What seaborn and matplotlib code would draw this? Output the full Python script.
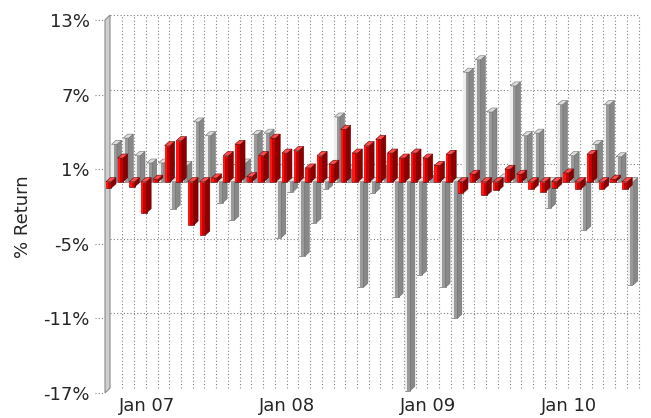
import matplotlib
matplotlib.use("Agg")
import matplotlib.pyplot as plt
from matplotlib.patches import Polygon, Rectangle
import numpy as np
import pandas as pd
import seaborn as sns

# monthly returns, Oct 2006 - Jun 2010
months = pd.date_range("2006-10-01", periods=45, freq="MS")
month_labels = [m.strftime("%b %y") for m in months]

fund_returns = [-0.5, 1.9, -0.4, -2.5, 0.2, 2.9, 3.3, -3.5, -4.3, 0.3,
                2.1, 3.0, 0.4, 2.1, 3.5, 2.3, 2.5, 1.1, 2.1, 1.4,
                4.2, 2.3, 2.9, 3.4, 2.3, 1.9, 2.3, 1.9, 1.3, 2.2,
                -0.9, 0.6, -1.1, -0.7, 1.0, 0.6, -0.6, -0.8, -0.5, 0.7,
                -0.6, 2.2, -0.6, 0.2, -0.6]
index_returns = [3.0, 3.5, 2.1, 1.5, 1.5, -2.2, 1.3, 4.8, 3.7, -1.7,
                 -3.1, 1.5, 3.8, 3.9, -4.5, -0.8, -6.0, -3.3, -0.6, 5.2,
                 1.0, -8.5, -0.9, 1.3, -9.3, -16.8, -7.5, 0.5, -8.5, -11.0,
                 8.8, 9.8, 5.6, 0.3, 7.7, 3.7, 3.9, -2.1, 6.2, 2.1,
                 -3.9, 3.0, 6.2, 2.0, -8.3]

y_ticks = [-17, -11, -5, 1, 7, 13]
jan_idx = [i for i, m in enumerate(months) if m.month == 1]
jan_labels = [month_labels[i] for i in jan_idx]

df = pd.DataFrame({
    "month": month_labels * 2,
    "series": ["Fund"] * len(months) + ["Index"] * len(months),
    "ret": fund_returns + index_returns,
})

sns.set_style("white")
plt.rcParams["font.family"] = ["DejaVu Sans"]

W, H = 651, 418
ax_l, ax_b, ax_w, ax_h = 105.0, 25, 528, 373   # pixels
fig = plt.figure(figsize=(W / 100, H / 100), dpi=100)
ax = fig.add_axes([ax_l / W, ax_b / H, ax_w / W, ax_h / H])

sns.barplot(data=df, x="month", y="ret", hue="series", order=month_labels,
            hue_order=["Fund", "Index"],
            palette={"Fund": "#cc0000", "Index": "#a0a0a0"},
            width=0.95, errorbar=None, legend=False, ax=ax)

xmin, xmax = -0.55, len(months) - 0.55
ymin, ymax = -17, 13
ax.set_xlim(xmin, xmax)
ax.set_ylim(ymin, ymax)
px_x = ax_w / (xmax - xmin)
px_y = ax_h / (ymax - ymin)

# 3d depth of walls and bars
dxw, dyw = 5 / px_x, 5 / px_y
dxb, dyb = 4.5 / px_x, 4 / px_y

styles = [
    dict(front="#c80000", light="#ff1414", side="#8a0000", top="#ff4d4d", edge="#640000", z=3),
    dict(front="#9a9a9a", light="#eeeeee", side="#888888", top="#dcdcdc", edge="#6c6c6c", z=2),
]
for k, cont in enumerate(ax.containers):
    st = styles[k]
    for j, bar in enumerate(cont.patches):
        x0, w = bar.get_x(), bar.get_width()
        x1 = x0 + w
        lo = min(bar.get_y(), bar.get_y() + bar.get_height())
        hi = max(bar.get_y(), bar.get_y() + bar.get_height())
        z = st["z"] + j * 0.001
        bar.set_facecolor(st["front"])
        bar.set_edgecolor(st["edge"])
        bar.set_linewidth(0.4)
        bar.set_zorder(z)
        ax.add_patch(Rectangle((x0, lo), w * 0.4, hi - lo, facecolor=st["light"],
                               linewidth=0, zorder=z + 0.0002))
        ax.add_patch(Polygon([(x1, lo), (x1 + dxb, lo + dyb), (x1 + dxb, hi + dyb), (x1, hi)],
                             closed=True, facecolor=st["side"], edgecolor=st["edge"],
                             linewidth=0.4, zorder=z + 0.0003, clip_on=False))
        ax.add_patch(Polygon([(x0, hi), (x0 + dxb, hi + dyb), (x1 + dxb, hi + dyb), (x1, hi)],
                             closed=True, facecolor=st["top"], edgecolor=st["edge"],
                             linewidth=0.4, zorder=z + 0.0004, clip_on=False))

# back wall grid
dots = dict(color="#808080", linewidth=0.8, linestyle=(0, (1, 2)), zorder=1, clip_on=False)
for v in y_ticks[1:]:
    ax.plot([xmin + dxw, xmax + dxw], [v + dyw, v + dyw], **dots)
for b in np.arange(0.5, len(months), 1.0):
    ax.plot([b + dxw, b + dxw], [ymin + dyw, ymax + dyw], **dots)

# left wall
ax.add_patch(Polygon([(xmin, ymin), (xmin + dxw, ymin + dyw), (xmin + dxw, ymax + dyw), (xmin, ymax)],
                     closed=True, facecolor="#cfcfcf", edgecolor="#8a8a8a", linewidth=0.8,
                     zorder=1.5, clip_on=False))

# dotted tick marks
tick_len = 10 / ax_w
for v in y_ticks:
    ax.plot([-tick_len, 0], [v, v], transform=ax.get_yaxis_transform(),
            color="#808080", linewidth=0.8, linestyle=(0, (1, 2)), clip_on=False)

for s in ax.spines.values():
    s.set_visible(False)
ax.set_yticks(y_ticks)
ax.set_yticklabels([f"{v}%" for v in y_ticks], fontsize=13)
ax.set_xticks(jan_idx)
ax.set_xticklabels(jan_labels, fontsize=13)
ax.tick_params(axis="y", length=0, pad=11)
ax.tick_params(axis="x", length=0, pad=3)
ax.set_xlabel("")
ax.set_ylabel("% Return", fontsize=13)
ax.yaxis.set_label_coords((32 - ax_l) / ax_w, (H - ax_b - 217) / ax_h)

fig.savefig("out.png", dpi=100)
